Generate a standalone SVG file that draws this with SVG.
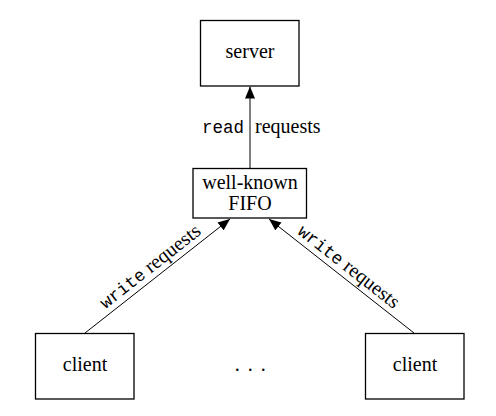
<svg xmlns="http://www.w3.org/2000/svg" width="496" height="416" viewBox="0 0 496 416">
  <defs>
    <marker id="arrow" viewBox="0 0 12 10" refX="12" refY="5" markerWidth="12" markerHeight="10" markerUnits="userSpaceOnUse" orient="auto">
      <path d="M0,0 L12,5 L0,10 Z" fill="#000"/>
    </marker>
    <style>
      .box { fill: #fff; stroke: #000; stroke-width: 1.3; }
      .lbl { font-family: "Liberation Serif", "Times New Roman", serif; font-size: 20px; fill: #000; }
      .mono { font-family: "Liberation Mono", "Courier New", monospace; font-size: 17.5px; }
      .edge { stroke: #000; stroke-width: 1; fill: none; marker-end: url(#arrow); }
    </style>
  </defs>
  <rect width="496" height="416" fill="#fff"/>

  <g id="connectors">
    <line class="edge" x1="250" y1="168" x2="250" y2="86.5" stroke-width="1.3"/>
    <line class="edge" x1="85" y1="333" x2="230" y2="219"/>
    <line class="edge" x1="414" y1="333" x2="269" y2="219"/>
    <text class="lbl" x="244" y="133" text-anchor="end"><tspan class="mono">read</tspan></text>
    <text class="lbl" x="255" y="133">requests</text>
    <g transform="translate(157.5,276) rotate(-38.2)">
      <text class="lbl" x="0" y="-6" text-anchor="middle"><tspan class="mono">write</tspan> requests</text>
    </g>
    <g transform="translate(341.5,276) rotate(38.2)">
      <text class="lbl" x="0" y="-6" text-anchor="middle"><tspan class="mono">write</tspan> requests</text>
    </g>
  </g>

  <g id="server">
    <rect class="box" x="200.5" y="20.5" width="98.5" height="65.5"/>
    <text class="lbl" x="250" y="58" text-anchor="middle">server</text>
  </g>

  <g id="fifo">
    <rect class="box" x="193" y="168.5" width="113.5" height="49.5"/>
    <text class="lbl" x="250" y="189" text-anchor="middle">well-known</text>
    <text class="lbl" x="250" y="210" text-anchor="middle">FIFO</text>
  </g>

  <g id="client1">
    <rect class="box" x="35.5" y="333.5" width="98.5" height="65.5"/>
    <text class="lbl" x="85" y="371" text-anchor="middle">client</text>
  </g>

  <g id="client2">
    <rect class="box" x="365.5" y="333.5" width="98.5" height="65.5"/>
    <text class="lbl" x="415" y="371" text-anchor="middle">client</text>
  </g>

  <g id="ellipsis">
    <text class="lbl" x="251" y="371" text-anchor="middle" letter-spacing="1.5">. . .</text>
  </g>
</svg>
